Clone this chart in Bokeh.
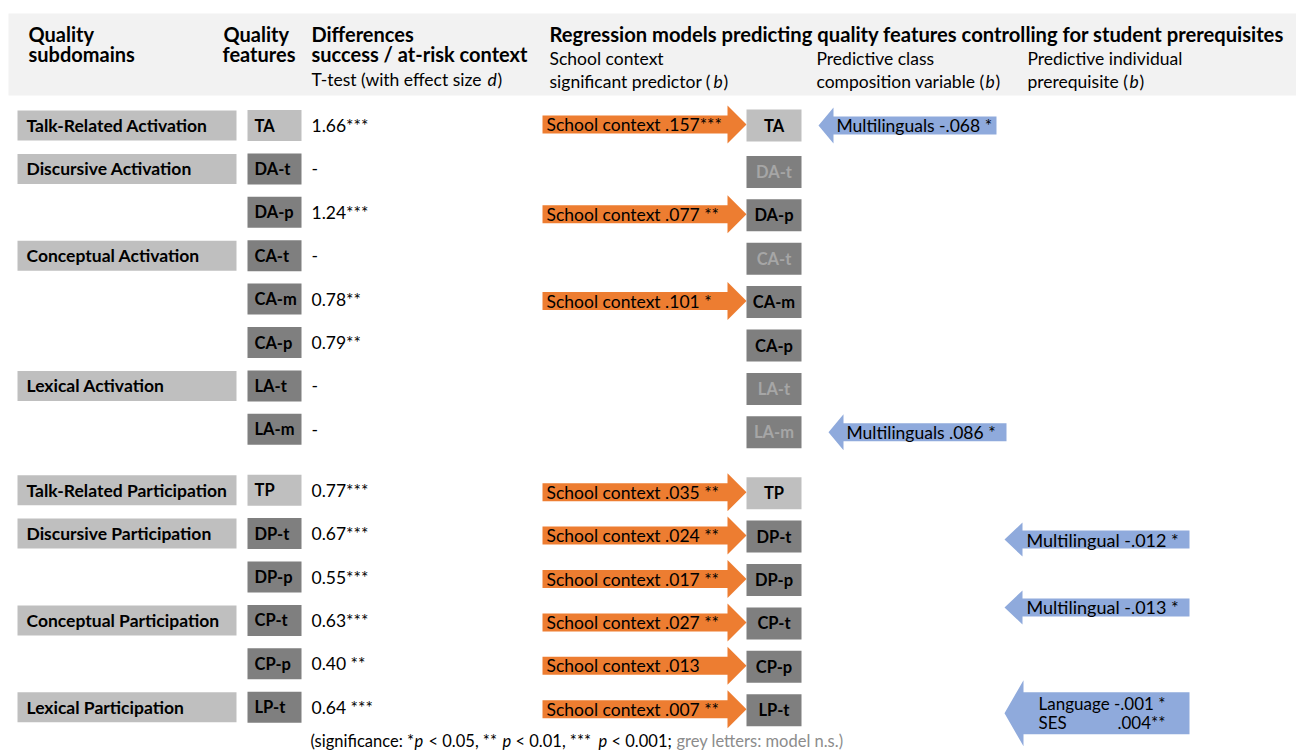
from bokeh.plotting import figure
from bokeh.models import Range1d
from bokeh.core.properties import value
from bokeh.embed import file_html
from bokeh.resources import INLINE

# ---------------- data ----------------
features = ["TA", "DA-t", "DA-p", "CA-t", "CA-m", "CA-p", "LA-t", "LA-m",
            "TP", "DP-t", "DP-p", "CP-t", "CP-p", "LP-t"]
ttest_d = ["1.66***", "-", "1.24***", "-", "0.78**", "0.79**", "-", "-",
           "0.77***", "0.67***", "0.55***", "0.63***", "0.40 **", "0.64 ***"]
talk_related_features = ["TA", "TP"]
model_ns_features = ["DA-t", "CA-t", "LA-t", "LA-m"]

subdomains = ["Talk-Related Activation", "Discursive Activation", "Conceptual Activation",
              "Lexical Activation", "Talk-Related Participation", "Discursive Participation",
              "Conceptual Participation", "Lexical Participation"]
subdomain_first_feature = ["TA", "DA-t", "CA-t", "LA-t", "TP", "DP-t", "CP-t", "LP-t"]

school_features = ["TA", "DA-p", "CA-m", "TP", "DP-t", "DP-p", "CP-t", "CP-p", "LP-t"]
school_b = [".157***", ".077 **", ".101 *", ".035 **", ".024 **", ".017 **", ".027 **", ".013", ".007 **"]

class_features = ["TA", "LA-m"]
class_predictor = ["Multilinguals", "Multilinguals"]
class_b = ["-.068 *", ".086 *"]

indiv_features = ["DP-t", "CP-t", "LP-t"]
indiv_predictors = [["Multilingual"], ["Multilingual"], ["Language", "SES"]]
indiv_b = [["-.012 *"], ["-.013 *"], ["-.001 *", ".004**"]]

# ---------------- layout / style ----------------
FONT = "Lato"
W, H = 1296, 752
ORANGE = "#ED7D31"
BLUE = "#8FAADC"
LIGHT = "#BFBFBF"
DARK = "#7F7F7F"
GREYTXT = "#A6A6A6"

p = figure(width=W, height=H, x_range=Range1d(0, W), y_range=Range1d(H, 0),
           output_backend="svg", toolbar_location=None, min_border=0,
           x_axis_type=None, y_axis_type=None, outline_line_color=None,
           background_fill_color="white", border_fill_color="white")
p.grid.visible = False

idx = {f: i for i, f in enumerate(features)}
left_y = [125 + i * 43.4 + (17.5 if i >= 8 else 0) for i in range(len(features))]
right_y = [y + (3 if i > 0 else 0) for i, y in enumerate(left_y)]


def txt(x, y, t, size=16, style="normal", color="black", align="left"):
    p.text(x=x, y=y, text=t if isinstance(t, list) else [t],
           text_font=value(FONT), text_font_size=f"{size}px", text_font_style=style,
           text_color=color, text_align=align, text_baseline="middle")


# header band
p.quad(left=8, right=1298, top=13, bottom=95, fill_color="#F2F2F2", line_color=None)
HB = 20
txt(28, 33, "Quality", HB, "bold")
txt(28, 53, "subdomains", HB, "bold")
txt(223, 33, "Quality", HB, "bold")
txt(222, 53, "features", HB, "bold")
txt(311, 33, "Differences", HB, "bold")
txt(311, 53, "success / at-risk context", HB, "bold")
txt(549, 33, "Regression models predicting quality features controlling for student prerequisites", 20.2, "bold")
HS = 17.5
txt(311, 79, "T-test (with effect size ", HS)
txt(487, 79, "d", HS, "italic")
txt(497, 79, ")", HS)
txt(549, 58, "School context", HS)
txt(549, 81, "significant predictor (", HS)
txt(713, 81, "b", HS, "italic")
txt(723, 81, ")", HS)
txt(816, 58, "Predictive class", HS)
txt(816, 81, "composition variable (", HS)
txt(985, 81, "b", HS, "italic")
txt(995, 81, ")", HS)
txt(1027, 58, "Predictive individual", HS)
txt(1027, 81, "prerequisite (", HS)
txt(1129, 81, "b", HS, "italic")
txt(1139, 81, ")", HS)

# subdomain boxes
sd_y = [left_y[idx[f]] for f in subdomain_first_feature]
p.quad(left=17, right=236, top=[y - 15 for y in sd_y], bottom=[y + 15 for y in sd_y],
       fill_color=LIGHT, line_color=None)
txt(26, sd_y, subdomains, 17.5, "bold")

# left feature boxes
box_fill = [LIGHT if f in talk_related_features else DARK for f in features]
p.quad(left=247, right=301, top=[y - 15.5 for y in left_y], bottom=[y + 15.5 for y in left_y],
       fill_color=box_fill, line_color=None)
txt(254, left_y, features, 16.5, "bold")

# t-test values
txt(311, left_y, ttest_d, 17.5)


# arrows
def right_arrow(y, x0, xb, xt, bh, hh):
    return [x0, xb, xb, xt, xb, xb, x0], [y - bh, y - bh, y - hh, y, y + hh, y + bh, y + bh]


def left_arrow(y, xt, xb, x1, bh, hh):
    return [xt, xb, xb, x1, x1, xb, xb], [y, y - hh, y - bh, y - bh, y + bh, y + bh, y + hh]


sy = [right_y[idx[f]] for f in school_features]
xs, ys = zip(*[right_arrow(y - 1, 542, 727, 746, 9, 19) for y in sy])
p.patches(xs=list(xs), ys=list(ys), fill_color=ORANGE, line_color=None)
txt(546, [y - 1 for y in sy], ["School context " + b for b in school_b], 17.5)

# right feature boxes
p.quad(left=746, right=801, top=[y - 16 for y in right_y], bottom=[y + 16 for y in right_y],
       fill_color=box_fill, line_color=None)
txt(773.5, right_y, features, 16.5, "bold",
    color=[GREYTXT if f in model_ns_features else "black" for f in features], align="center")

# class composition arrows (blue)
class_tip = {"TA": 818, "LA-m": 828}
for f, pr, b in zip(class_features, class_predictor, class_b):
    y = right_y[idx[f]]
    t = class_tip[f]
    ax, ay = left_arrow(y, t, t + 15, t + 178, 9, 18)
    p.patch(x=ax, y=ay, fill_color=BLUE, line_color=None)
    txt(t + 18, y, f"{pr} {b}", 17.5)

# individual prerequisite arrows (blue)
indiv_dy = {"DP-t": 3, "CP-t": -16, "LP-t": 3}
for f, prs, bs in zip(indiv_features, indiv_predictors, indiv_b):
    y = right_y[idx[f]] + indiv_dy[f]
    if len(prs) == 1:
        ax, ay = left_arrow(y, 1004, 1022, 1189, 9, 17)
        p.patch(x=ax, y=ay, fill_color=BLUE, line_color=None)
        txt(1026, y, f"{prs[0]} {bs[0]}", 18)
    else:
        ax, ay = left_arrow(y, 1004, 1023, 1189, 21, 33)
        p.patch(x=ax, y=ay, fill_color=BLUE, line_color=None)
        txt(1038, y - 9.5, f"{prs[0]} {bs[0]}", 17)
        txt(1038, y + 9.5, prs[1], 17)
        txt(1165, y + 9.5, bs[1], 17, align="right")

# footnote
FY = 740
FS = 16.5
txt(310, FY, "(significance: *", FS)
txt(414, FY, "p", FS, "italic")
txt(428, FY, "< 0.05, **", FS)
txt(502, FY, "p", FS, "italic")
txt(515, FY, "< 0.01, ***", FS)
txt(598, FY, "p", FS, "italic")
txt(611, FY, "< 0.001;", FS)
txt(676, FY, "grey letters: model n.s.)", FS, color="#8C8C8C")

open("out.html", "w").write(file_html(p, INLINE))
